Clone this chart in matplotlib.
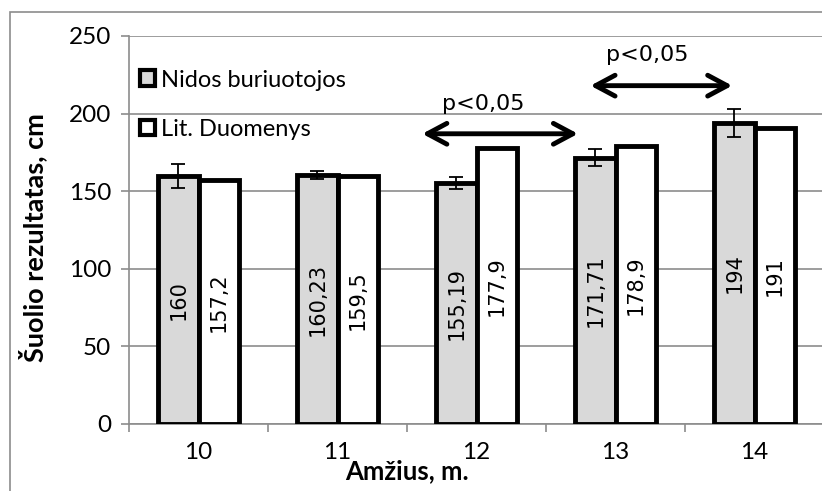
import numpy as np
import matplotlib
matplotlib.use("Agg")
import matplotlib.pyplot as plt
from matplotlib.patches import Patch, Rectangle

# ---- data -------------------------------------------------------------
ages = ["10", "11", "12", "13", "14"]
nidos = [160, 160.23, 155.19, 171.71, 194]
nidos_err = [7.7, 2.5, 4.0, 5.5, 9.0]
lit = [157.2, 159.5, 177.9, 178.9, 191]
nidos_lbl = ["160", "160,23", "155,19", "171,71", "194"]
lit_lbl = ["157,2", "159,5", "177,9", "178,9", "191"]
series_names = ["Nidos buriuotojos", "Lit. Duomenys"]
# significance arrows: (x_start, x_end, y), label position (x, y)
sig_arrows = [(1.61, 2.73, 187), (2.82, 3.84, 218)]
sig_text = [(2.05, 206), (3.23, 238)]
sig_label = "p<0,05"

plt.rcParams["font.family"] = ["Lato", "DejaVu Sans"]

W, H = 822, 491
fig = plt.figure(figsize=(W / 100, H / 100), dpi=100)
fig.patches.append(Rectangle((10 / W, -0.1), 1.2, 1 - 12 / H + 0.1,
                             transform=fig.transFigure, fill=False,
                             ec="#8c8c8c", lw=1.2))
ax = fig.add_axes([129 / W, 1 - 424 / H, (824 - 129) / W, (424 - 36) / H])

x = np.arange(len(ages))
bw = 0.29
grey = "#d9d9d9"
ax.bar(x - bw / 2, nidos, bw, color=grey, edgecolor="black", lw=3.5,
       yerr=nidos_err, error_kw=dict(ecolor="black", elinewidth=1.3,
                                     capsize=5, capthick=1.3), zorder=3)
ax.bar(x + bw / 2, lit, bw, color="white", edgecolor="black", lw=3.5, zorder=3)

for xi, v, t in zip(x - bw / 2, nidos, nidos_lbl):
    ax.text(xi, v / 2, t, rotation=90, ha="center", va="center",
            family="DejaVu Sans", fontsize=15, zorder=4)
for xi, v, t in zip(x + bw / 2, lit, lit_lbl):
    ax.text(xi, v / 2, t, rotation=90, ha="center", va="center",
            family="DejaVu Sans", fontsize=15, zorder=4)

for (x0, x1, y), (tx, ty) in zip(sig_arrows, sig_text):
    ax.annotate("", xy=(x1, y), xytext=(x0, y),
                arrowprops=dict(arrowstyle="<->,head_length=1.4,head_width=0.75",
                                lw=3.5, color="black", mutation_scale=10,
                                shrinkA=0, shrinkB=0), zorder=5)
    ax.text(tx, ty, sig_label, ha="center", va="center",
            family="DejaVu Sans", fontsize=16, zorder=5)

ax.set_xlim(-0.5, 4.5)
ax.set_ylim(0, 250)
ax.set_yticks(range(0, 251, 50))
ax.set_xticks(x)
ax.set_xticklabels(ages)
ax.set_xticks(np.arange(-0.5, 4.6, 1), minor=True)
ax.tick_params(axis="x", which="major", length=0, pad=13, labelsize=17.5)
ax.tick_params(axis="x", which="minor", length=6, color="#8c8c8c", width=1.2)
ax.tick_params(axis="y", length=6, color="#8c8c8c", width=1.2,
               labelsize=17.5, pad=7)
ax.grid(axis="y", color="#8c8c8c", lw=1.2, zorder=0)
ax.set_axisbelow(True)
for s in ["top", "right"]:
    ax.spines[s].set_visible(False)
for s in ["left", "bottom"]:
    ax.spines[s].set_color("#8c8c8c")
    ax.spines[s].set_linewidth(1.2)

handles = [Patch(facecolor=grey, edgecolor="black", lw=3),
           Patch(facecolor="white", edgecolor="black", lw=3)]
ax.legend(handles, series_names, loc="upper left", bbox_to_anchor=(-0.005, 0.95),
          frameon=False, fontsize=17, handlelength=0.65, handleheight=0.65,
          handletextpad=0.25, labelspacing=1.2, borderaxespad=0.2)

fig.text(407 / W, 1 - 471 / H, "Amžius, m.", ha="center", va="center",
         fontsize=18.5, fontweight="bold")
fig.text(33 / W, 1 - 238 / H, "Šuolio rezultatas, cm", ha="center",
         va="center", rotation=90, fontsize=19.5, fontweight="bold")

fig.savefig("out.png", dpi=100)
